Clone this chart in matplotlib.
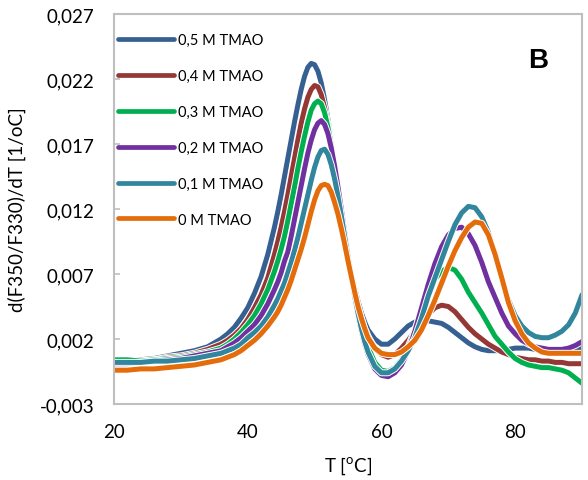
import matplotlib
matplotlib.use("Agg")
import matplotlib.pyplot as plt
import matplotlib.patheffects as pe

plt.rcParams['font.family'] = ['Lato', 'DejaVu Sans']
plt.rcParams['mathtext.fontset'] = 'custom'
plt.rcParams['mathtext.rm'] = 'Lato'

temps = [20, 22, 24, 26, 28, 30, 32, 34, 36, 37, 38, 39, 40, 41, 42, 43,
         44, 44.5, 45, 45.5, 46, 46.5, 47, 47.5, 48, 48.5, 49, 49.5, 50, 50.5,
         51, 51.5, 52, 52.5, 53, 53.5, 54, 54.5, 55, 55.5, 56, 56.5, 57, 57.5, 58,
         59, 60, 61, 62, 63, 64, 65, 66, 67, 68, 69, 70, 71, 72, 73, 74, 75,
         76, 77, 78, 79, 80, 81, 82, 83, 84, 85, 86, 87, 88, 89, 90]

tmao_05 = [0.0002, 0.0003, 0.0004, 0.0005, 0.0007, 0.0009, 0.0011, 0.0014, 0.0020, 0.0024,
           0.0029, 0.0036, 0.0044, 0.0055, 0.0068, 0.0085,
           0.0106, 0.0118, 0.0131, 0.0145, 0.0159, 0.0173, 0.0187, 0.0200, 0.0212, 0.0222,
           0.0229, 0.0232, 0.0231, 0.0226, 0.0217, 0.0204, 0.0189, 0.0172, 0.0154, 0.0135,
           0.0117, 0.0100, 0.0084, 0.0071, 0.0059, 0.0049, 0.0040, 0.0033, 0.0027,
           0.0020, 0.0016, 0.0016, 0.0020, 0.0025, 0.0030, 0.0033, 0.0034, 0.0034, 0.0033,
           0.0032, 0.0029, 0.0025, 0.0021, 0.0017, 0.0014, 0.0012, 0.0011, 0.0011, 0.0011,
           0.0012, 0.0013, 0.0013, 0.0013, 0.0012, 0.0011, 0.0011, 0.0012, 0.0012, 0.0012,
           0.0012, 0.0013]

tmao_04 = [0.0001, 0.0002, 0.0003, 0.0004, 0.0006, 0.0007, 0.0009, 0.0012, 0.0016, 0.0019,
           0.0023, 0.0028, 0.0035, 0.0044, 0.0054, 0.0067,
           0.0085, 0.0095, 0.0106, 0.0118, 0.0131, 0.0145, 0.0159, 0.0173, 0.0186, 0.0197,
           0.0206, 0.0212, 0.0215, 0.0214, 0.0208, 0.0198, 0.0185, 0.0170, 0.0153, 0.0135,
           0.0117, 0.0100, 0.0084, 0.0069, 0.0056, 0.0045, 0.0036, 0.0028, 0.0022,
           0.0013, 0.0008, 0.0006, 0.0008, 0.0013, 0.0019, 0.0026, 0.0033, 0.0039, 0.0044,
           0.0046, 0.0045, 0.0041, 0.0035, 0.0029, 0.0024, 0.0020, 0.0016, 0.0013, 0.0010,
           0.0008, 0.0006, 0.0005, 0.0004, 0.0004, 0.0003, 0.0003, 0.0002, 0.0002, 0.0001,
           0.0001, 0.0001]

tmao_03 = [0.0004, 0.0004, 0.0003, 0.0004, 0.0005, 0.0006, 0.0008, 0.0010, 0.0013, 0.0016,
           0.0020, 0.0025, 0.0031, 0.0038, 0.0047, 0.0058,
           0.0072, 0.0080, 0.0089, 0.0099, 0.0111, 0.0124, 0.0137, 0.0151, 0.0164, 0.0176,
           0.0187, 0.0196, 0.0201, 0.0203, 0.0201, 0.0194, 0.0183, 0.0169, 0.0153, 0.0135,
           0.0117, 0.0099, 0.0082, 0.0066, 0.0052, 0.0040, 0.0030, 0.0021, 0.0014,
           0.0002, -0.0004, -0.0005, -0.0002, 0.0004, 0.0014, 0.0027, 0.0041, 0.0055, 0.0066,
           0.0072, 0.0075, 0.0073, 0.0066, 0.0056, 0.0048, 0.0040, 0.0031, 0.0022, 0.0016,
           0.0010, 0.0005, 0.0002, 0.0000, -0.0001, -0.0002, -0.0002, -0.0003, -0.0004, -0.0006,
           -0.0010, -0.0014]

tmao_02 = [0.0001, 0.0001, 0.0002, 0.0003, 0.0004, 0.0005, 0.0007, 0.0009, 0.0011, 0.0014,
           0.0017, 0.0021, 0.0026, 0.0031, 0.0038, 0.0047,
           0.0058, 0.0064, 0.0071, 0.0080, 0.0087, 0.0099, 0.0112, 0.0125, 0.0138, 0.0151,
           0.0163, 0.0173, 0.0181, 0.0186, 0.0188, 0.0185, 0.0178, 0.0167, 0.0153, 0.0137,
           0.0120, 0.0102, 0.0085, 0.0068, 0.0052, 0.0038, 0.0026, 0.0016, 0.0008,
           -0.0003, -0.0008, -0.0009, -0.0006, 0.0000, 0.0011, 0.0026, 0.0044, 0.0062, 0.0078,
           0.0091, 0.0100, 0.0105, 0.0106, 0.0101, 0.0092, 0.0079, 0.0064, 0.0052, 0.0040,
           0.0030, 0.0024, 0.0019, 0.0016, 0.0014, 0.0013, 0.0012, 0.0012, 0.0012, 0.0013,
           0.0015, 0.0018]

tmao_01 = [0.0002, 0.0002, 0.0002, 0.0003, 0.0003, 0.0004, 0.0005, 0.0007, 0.0009, 0.0011,
           0.0013, 0.0016, 0.0021, 0.0025, 0.0030, 0.0037,
           0.0046, 0.0051, 0.0057, 0.0063, 0.0071, 0.0079, 0.0088, 0.0098, 0.0109, 0.0120,
           0.0131, 0.0142, 0.0152, 0.0160, 0.0165, 0.0166, 0.0162, 0.0154, 0.0143, 0.0130,
           0.0115, 0.0099, 0.0083, 0.0068, 0.0053, 0.0040, 0.0028, 0.0018, 0.0010,
           -0.0001, -0.0006, -0.0006, -0.0003, 0.0003, 0.0011, 0.0021, 0.0036, 0.0053, 0.0067,
           0.0081, 0.0095, 0.0108, 0.0117, 0.0122, 0.0121, 0.0114, 0.0102, 0.0085, 0.0066,
           0.0050, 0.0038, 0.0030, 0.0025, 0.0022, 0.0021, 0.0021, 0.0023, 0.0026, 0.0031,
           0.0040, 0.0054]

tmao_00 = [-0.0004, -0.0004, -0.0003, -0.0003, -0.0002, -0.0001, 0.0000, 0.0002, 0.0004, 0.0006,
           0.0008, 0.0011, 0.0015, 0.0019, 0.0024, 0.0030,
           0.0037, 0.0041, 0.0046, 0.0052, 0.0058, 0.0065, 0.0073, 0.0081, 0.0089, 0.0098,
           0.0108, 0.0118, 0.0127, 0.0134, 0.0138, 0.0139, 0.0138, 0.0133, 0.0125, 0.0116,
           0.0105, 0.0093, 0.0080, 0.0068, 0.0056, 0.0045, 0.0036, 0.0028, 0.0021,
           0.0013, 0.0009, 0.0008, 0.0008, 0.0010, 0.0014, 0.0019, 0.0027, 0.0038, 0.0050,
           0.0063, 0.0076, 0.0088, 0.0098, 0.0106, 0.0110, 0.0109, 0.0100, 0.0085, 0.0067,
           0.0048, 0.0034, 0.0024, 0.0017, 0.0013, 0.0010, 0.0009, 0.0009, 0.0009, 0.0009,
           0.0009, 0.0009]

series_labels = ['0,5 M TMAO', '0,4 M TMAO', '0,3 M TMAO', '0,2 M TMAO', '0,1 M TMAO', '0 M TMAO']
series_values = [tmao_05, tmao_04, tmao_03, tmao_02, tmao_01, tmao_00]
series_colors = ['#376092', '#953735', '#00B050', '#7030A0', '#31859C', '#E46C0A']

y_ticks = [-0.003, 0.002, 0.007, 0.012, 0.017, 0.022, 0.027]
y_tick_labels = ['-0,003', '0,002', '0,007', '0,012', '0,017', '0,022', '0,027']
x_ticks = [20, 40, 60, 80]
x_tick_labels = ['20', '40', '60', '80']

fig = plt.figure(figsize=(5.88, 4.81), dpi=100)
ax = fig.add_axes([114 / 588, 1 - 405 / 481, 468 / 588, 390 / 481])

lw = 3.6
for vals, lab, col in zip(series_values, series_labels, series_colors):
    ax.plot(temps, vals, color=col, lw=lw, label=lab, solid_capstyle='round',
            solid_joinstyle='round',
            path_effects=[pe.Stroke(linewidth=lw + 1.4, foreground='white'), pe.Normal()])

ax.set_xlim(20, 90)
ax.set_ylim(-0.003, 0.027)
ax.set_xticks(x_ticks)
ax.set_xticklabels(x_tick_labels)
ax.set_yticks(y_ticks)
ax.set_yticklabels(y_tick_labels)
ax.tick_params(axis='y', direction='in', length=4, width=1.2, color='#BFBFBF',
               labelsize=13.5, pad=14)
ax.tick_params(axis='x', length=0, labelsize=13.5, pad=14)

for s in ax.spines.values():
    s.set_color('#BFBFBF')
    s.set_linewidth(1.5)

ax.set_xlabel('T [$^{\\mathrm{o}}$C]', fontsize=13.5, labelpad=10)
ax.set_ylabel('d(F350/F330)/dT [1/oC]', fontsize=13.5, labelpad=10)

leg = ax.legend(loc='upper left', bbox_to_anchor=(0.0, 0.962), frameon=False,
                fontsize=10.5, handlelength=3.8, handletextpad=0.3,
                labelspacing=1.5, borderaxespad=0.2, borderpad=0.1)
for h in leg.get_lines():
    h.set_linewidth(3.4)
    h.set_path_effects([])
    h.set_solid_capstyle('round')

ax.text(0.906, 0.882, 'B', transform=ax.transAxes, fontsize=20, fontweight='bold',
        family='Liberation Sans', ha='center', va='center')

fig.savefig('out.png', dpi=100)
